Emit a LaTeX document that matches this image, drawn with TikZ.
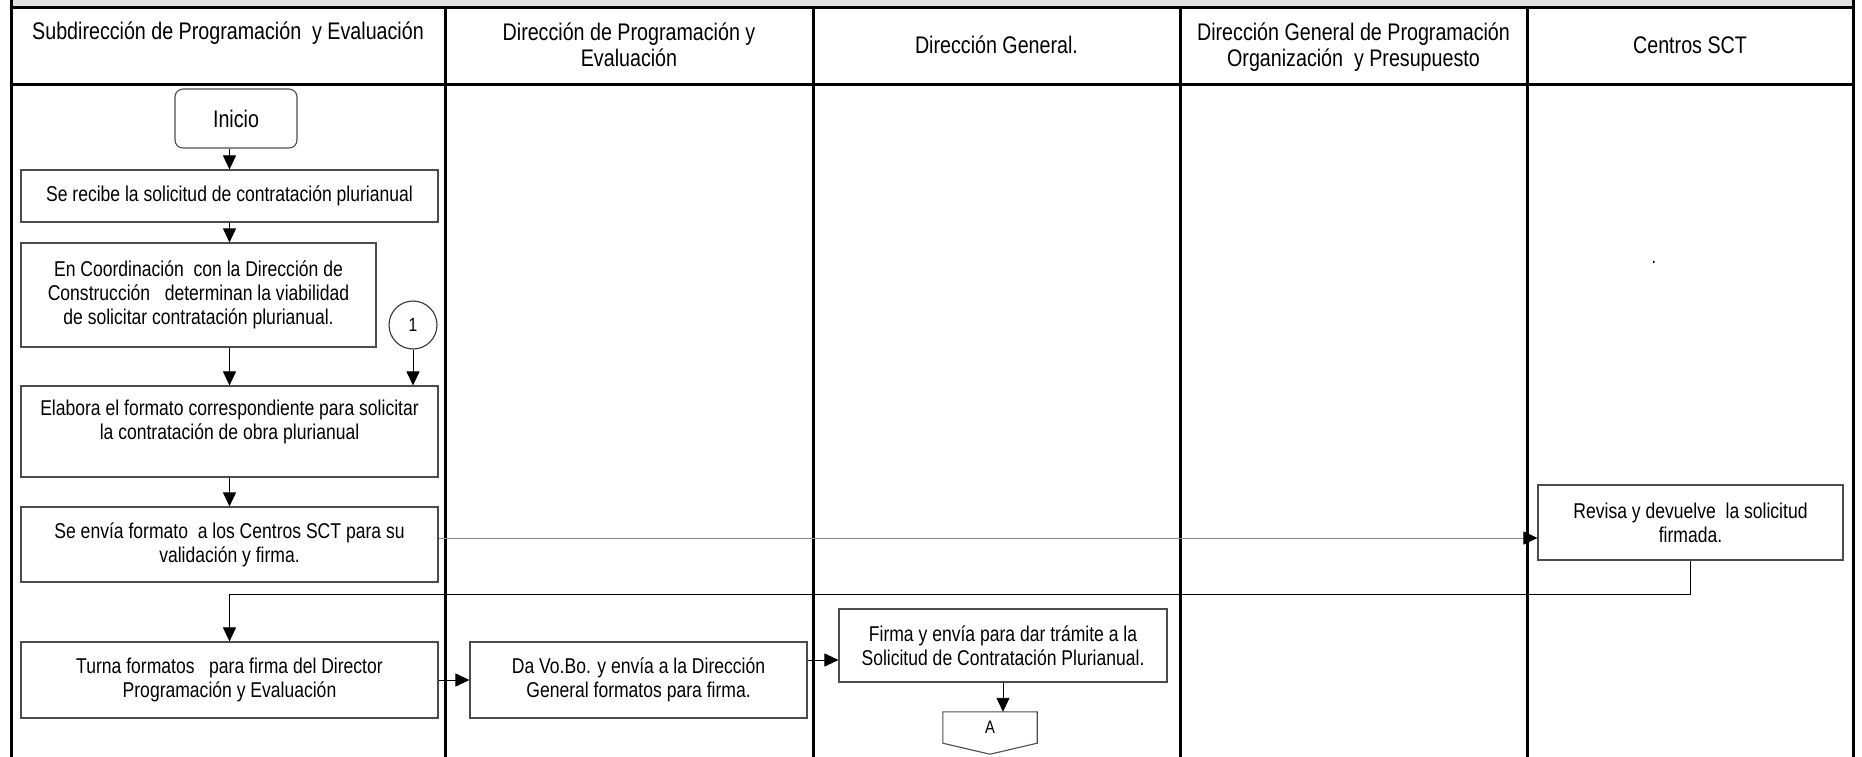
\documentclass[tikz,border=0pt]{standalone}
\usepackage{fontspec}
\setmainfont{Liberation Sans}[FakeStretch=0.82]
\usetikzlibrary{arrows.meta,calc}
\begin{document}
\begin{tikzpicture}[x=1pt,y=-1pt,
  boxfont/.style={font=\fontsize{21.4}{24}\selectfont},
  hdr/.style={font=\fontsize{24}{25.5}\selectfont, align=center, inner sep=0pt},
  proc/.style={draw=black!70, line width=1.1pt, fill=white, align=center, inner sep=0pt, boxfont},
  lane/.style={line width=3pt, draw=black},
  arr/.style={line width=0.9pt, draw=black, -{Triangle[length=14pt,width=13pt]}},
  arrg/.style={line width=0.9pt, draw=black!45, -{Triangle[length=14pt,width=13pt,color=black]}}]
\useasboundingbox (0,0) rectangle (1862,757);
% frame and lanes
\fill[black!12] (11,0) rectangle (1853,7.5);
\draw[lane] (11,0) -- (11,757);
\draw[lane] (1853,0) -- (1853,757);
\draw[lane] (11,7.5) -- (1853,7.5);
\draw[lane] (11,85) -- (1853,85);
\foreach \xx in {445,813,1180,1527} \draw[lane] (\xx,7.5) -- (\xx,757);
% headers
\node[hdr, anchor=base] (h1) at (228,40) {Subdirección de Programación\ \ y Evaluación};
\node[hdr, anchor=north] (h2) at (629,23) {Dirección de Programación y\\Evaluación};
\node[hdr, anchor=base] (h3) at (996.5,54) {Dirección General.};
\node[hdr, anchor=north] (h4) at (1353.5,23) {Dirección General de Programación\\Organización\ \ y Presupuesto};
\node[hdr, anchor=base] (h5) at (1690,54) {Centros SCT};
% nodes
\node[proc, rounded corners=8pt, minimum width=122, minimum height=59, font=\fontsize{24}{25}\selectfont] (ini) at (236,118.5) {Inicio};
\node[proc, minimum width=417, minimum height=52] (b1) at (229.5,196) {Se recibe la solicitud de contratación plurianual};
\node[proc, minimum width=355, minimum height=104] (b2) at (198.5,295) {En Coordinación\ \ con la Dirección de\\Construcción\ \ \ determinan la viabilidad\\de solicitar contratación plurianual.};
\node[draw=black!80, line width=1.1pt, circle, minimum size=48, inner sep=0pt, font=\fontsize{19}{20}\selectfont] (c1) at (413,325) {1};
\node[proc, minimum width=417, minimum height=91] (b3) at (229.5,431.5) {Elabora el formato correspondiente para solicitar\\la contratación de obra plurianual\\\mbox{}};
\node[proc, minimum width=417, minimum height=75] (b4) at (229.5,544.5) {Se envía formato\ \ a los Centros SCT para su\\validación y firma.};
\node[proc, minimum width=417, minimum height=76] (b5) at (229.5,680) {Turna formatos\ \ \ para firma del Director\\Programación y Evaluación};
\node[proc, minimum width=337, minimum height=76] (b6) at (638.5,680) {Da Vo.Bo. y envía a la Dirección\\General formatos para firma.};
\node[proc, minimum width=328, minimum height=73] (b7) at (1003,645.5) {Firma y envía para dar trámite a la\\Solicitud de Contratación Plurianual.};
\node[proc, minimum width=305, minimum height=75] (rev) at (1690.5,522.5) {Revisa y devuelve\ \ la solicitud\\firmada.};
\node[inner sep=0pt, minimum width=94, minimum height=31, font=\fontsize{18}{19}\selectfont] (A) at (990,727.5) {A};
\draw[draw=black!70, line width=1.1pt] (A.north west) -- (A.north east) -- (A.south east) -- ([yshift=-11pt]A.south) -- (A.south west) -- cycle;
\node[inner sep=0pt, anchor=base, font=\fontsize{20}{20}\selectfont] (dot) at (1654,263) {.};
% connectors
\draw[arr] (ini.south -| b1.north) -- (b1.north);
\draw[arr] (b1.south) -- (b1.south |- b2.north);
\draw[arr] (b2.south -| b3.north) -- (b3.north);
\draw[arr] (c1.south) -- (c1.south |- b3.north);
\draw[arr] (b3.south) -- (b4.north);
\coordinate (p) at ([yshift=6.5pt]b4.east);
\draw[arrg] (p) -- (p -| rev.west);
\draw[arr] (rev.south) -- ++(0,34) -| (b5.north);
\draw[arr] (b5.east) -- (b6.west);
\coordinate (q) at ([yshift=20pt]b6.east);
\draw[arr] (q) -- (q -| b7.west);
\draw[arr] (b7.south) -- (b7.south |- A.north);
\end{tikzpicture}
\end{document}
